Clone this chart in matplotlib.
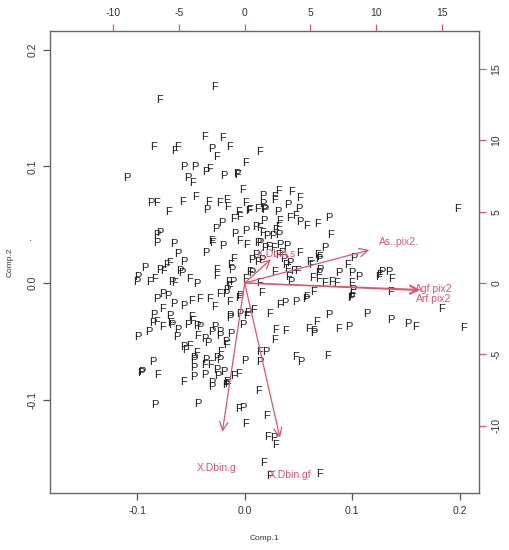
import matplotlib
matplotlib.use('Agg')
import matplotlib.pyplot as plt

# scores on Comp.1 / Comp.2, split by group label
f_comp1 = [-0.0282, -0.0796, -0.0375, -0.0207, -0.0849, -0.0654, -0.0622, -0.0145, -0.0260, -0.0331,
           0.0004, -0.0483, -0.0068, -0.0021, -0.0824, -0.0576, -0.0455, -0.0338, -0.0229, -0.0167,
           -0.0161, 0.0004, -0.0710, -0.0059, 0.0034, -0.0099, -0.0049, -0.0043, -0.0306, -0.0300,
           0.0020, -0.0694, -0.0725, -0.0756, -0.0099, -0.0129, -0.0260, -0.0266, -0.0880, -0.0840,
           -0.0517, -0.0654, -0.0152, 0.0004, -0.0136, -0.0229, -0.0492, -0.0415, -0.0331, -0.0282,
           -0.0136, -0.0762, -0.0818, -0.0762, -0.0687, -0.0492, -0.0483, 0.0020, -0.0440, -0.0167,
           -0.0508, -0.0059, 0.0220, 0.0267, 0.0401, 0.0453, 0.0494, 0.0608, 0.0618, 0.0276,
           0.0050, 0.0407, 0.0630, 0.0686, 0.0741, 0.0810, 0.0850, 0.0990, 0.0143, 0.0153,
           0.0639, 0.0578, 0.0329, 0.0081, 0.0227, 0.0671, 0.0593, 0.0639, 0.0283, 0.0382,
           0.0276, 0.0872, 0.0773, 0.0134, 0.0276, 0.0313, 0.0276, 0.0432, 0.0506, 0.0050,
           0.0118, 0.0416, 0.0469, 0.0578, 0.0680, 0.0801, 0.0323, 0.0313, 0.0137, 0.0283,
           0.0165, 0.0509, 0.0676, 0.0701, 0.0313, -0.0808, -0.0554, -0.0452, -0.0375, -0.0315,
           -0.0220, -0.0564, -0.0167, -0.0105, -0.0059, 0.0143, 0.0469, 0.0127, -0.0059, 0.0206,
           0.0004, 0.0215, 0.0289, 0.0180, 0.0236, 0.0701, 0.1982, 0.0955, 0.0996, 0.1006,
           0.1244, 0.1368, 0.1253, 0.1353, 0.1827, 0.1585, 0.2034, -0.0161]
f_comp2 = [0.1682, 0.1568, 0.1248, 0.1240, 0.1168, 0.1131, 0.1163, 0.1168, 0.1082, 0.0974,
           0.1026, 0.0854, 0.0925, 0.0797, 0.0688, 0.0692, 0.0740, 0.0697, 0.0688, 0.0711,
           0.0654, 0.0688, 0.0611, 0.0611, 0.0617, 0.0546, 0.0563, 0.0362, 0.0362, 0.0340,
           0.0326, 0.0174, 0.0154, 0.0105, 0.0203, 0.0154, 0.0111, 0.0063, 0.0011, 0.0032,
           0.0034, -0.0003, 0.0011, 0.0032, -0.0037, -0.0097, -0.0152, -0.0140, -0.0140, -0.0203,
           -0.0160, -0.0225, -0.0332, -0.0380, -0.0345, -0.0289, -0.0323, -0.0283, -0.0454, -0.0531,
           -0.0540, -0.0131, 0.0306, 0.0297, 0.0117, 0.0105, 0.0105, 0.0183, 0.0154, 0.0097,
           0.0097, 0.0049, 0.0040, 0.0032, 0.0003, 0.0011, -0.0003, -0.0003, 0.0003, -0.0083,
           -0.0075, -0.0123, -0.0189, -0.0231, -0.0266, -0.0332, -0.0397, -0.0409, -0.0403, -0.0409,
           -0.0488, -0.0397, -0.0626, 0.1125, 0.0734, 0.0791, 0.0711, 0.0782, 0.0726, 0.0626,
           0.0632, 0.0554, 0.0574, 0.0488, 0.0506, 0.0411, 0.0531, 0.0482, 0.0469, 0.0454,
           0.0426, 0.0254, 0.0240, 0.0225, 0.0240, -0.0788, -0.0574, -0.0602, -0.0703, -0.0703,
           -0.0589, -0.0846, -0.0851, -0.0797, -0.0782, -0.0589, -0.0632, -0.0925, -0.1082, -0.1137,
           -0.1211, -0.1317, -0.1388, -0.1545, -0.1651, -0.1637, 0.0634, 0.0154, -0.0123, -0.0094,
           0.0049, 0.0032, 0.0069, -0.0075, -0.0225, -0.0380, -0.0388, -0.0868]

p_comp1 = [-0.0306, -0.1091, -0.0564, -0.0461, -0.0362, -0.0529, -0.0189, -0.0073, -0.0871, -0.0353,
           -0.0213, -0.0266, 0.0013, -0.0787, -0.0818, -0.0818, -0.0089, -0.0204, -0.0663, -0.0359,
           -0.0617, -0.0570, -0.0787, -0.0927, -0.0601, -0.0585, -0.0989, -0.1004, -0.0678, -0.0440,
           -0.0114, -0.0167, -0.0173, -0.0762, -0.0715, -0.0812, -0.0657, -0.0564, -0.0049, -0.0849,
           -0.0855, -0.0700, -0.0678, -0.0617, -0.0524, -0.0440, -0.0415, -0.0306, -0.0275, -0.0235,
           -0.0142, -0.0142, -0.0049, -0.0018, -0.0989, -0.0887, -0.0632, -0.0368, -0.0338, -0.0173,
           -0.0229, -0.0570, -0.0120, 0.0032, -0.0127, 0.0127, 0.0190, 0.0329, 0.0392, 0.0066,
           0.0127, 0.0159, 0.0369, 0.0382, 0.0422, 0.0701, 0.0872, 0.0996, 0.0066, 0.0432,
           0.0686, 0.0987, 0.0571, 0.0475, 0.0376, 0.0785, 0.0648, 0.0965, 0.0165, 0.0165,
           0.0174, 0.0190, 0.0313, 0.0401, 0.0506, 0.0515, 0.0785, 0.0180, 0.0106, 0.0261,
           0.0320, 0.0211, 0.0137, 0.0748, 0.0692, 0.1020, 0.0103, 0.0345, -0.0855, -0.0957,
           -0.0967, -0.0468, -0.0468, -0.0359, -0.0254, -0.0229, -0.0477, -0.0477, -0.0368, -0.0254,
           -0.0189, -0.0245, -0.0306, -0.0306, -0.0176, 0.0004, 0.0137, 0.0199, 0.0525, -0.0833,
           -0.0436, -0.0018, 0.0267, 0.1058, 0.1006, 0.1275, 0.1343, 0.1141, 0.1359, 0.1517]
p_comp2 = [0.1148, 0.0897, 0.0991, 0.0997, 0.0954, 0.0897, 0.0919, 0.0934, 0.0683, 0.0626,
           0.0517, 0.0460, 0.0448, 0.0431, 0.0411, 0.0340, 0.0420, 0.0317, 0.0334, 0.0260,
           0.0248, 0.0183, 0.0111, 0.0126, 0.0105, 0.0083, 0.0054, 0.0011, 0.0011, -0.0011,
           0.0011, -0.0060, -0.0094, -0.0097, -0.0111, -0.0140, -0.0183, -0.0197, -0.0111, -0.0274,
           -0.0345, -0.0283, -0.0360, -0.0403, -0.0360, -0.0368, -0.0380, -0.0417, -0.0380, -0.0417,
           -0.0283, -0.0302, -0.0266, -0.0360, -0.0465, -0.0422, -0.0465, -0.0482, -0.0517, -0.0503,
           -0.0454, -0.0551, 0.0111, -0.0257, -0.0437, 0.0340, 0.0297, 0.0326, 0.0317, 0.0197,
           0.0183, 0.0197, 0.0203, 0.0154, 0.0174, 0.0111, 0.0083, 0.0083, 0.0083, 0.0011,
           0.0083, -0.0131, -0.0140, -0.0160, -0.0174, -0.0274, -0.0426, -0.0380, 0.0746, 0.0677,
           0.0632, 0.0626, 0.0611, 0.0668, 0.0632, 0.0525, 0.0554, 0.0531, 0.0482, 0.0403,
           0.0411, 0.0403, 0.0345, 0.0302, 0.0203, 0.0212, 0.0240, 0.0260, -0.0674, -0.0760,
           -0.0769, -0.0640, -0.0660, -0.0660, -0.0640, -0.0660, -0.0726, -0.0803, -0.0788, -0.0745,
           -0.0760, -0.0797, -0.0859, -0.0889, -0.0874, -0.0668, -0.0674, -0.0589, -0.0674, -0.1045,
           -0.1039, -0.1074, -0.1326, 0.0054, -0.0060, 0.0097, 0.0097, -0.0266, -0.0317, -0.0354]

# loadings (top / right axes)
var_names = ['As..pix2.', 'Agf.pix2', 'Arf.pix2', 'X.Dbin.g', 'X.Dbin.gf', 'X.Dbin.s']
load1 = [9.47, 13.28, 13.28, -1.70, 2.68, 1.99]
load2 = [2.31, -0.46, -0.53, -10.43, -10.85, 1.66]
lab1 = [11.73, 14.40, 14.35, -2.17, 3.44, 2.43]
lab2 = [2.90, -0.42, -1.10, -13.00, -13.46, 2.03]

red = '#DF536B'
plt.rcParams['font.family'] = ['Liberation Sans', 'DejaVu Sans']
plt.rcParams['axes.unicode_minus'] = False

fig = plt.figure(figsize=(5.09, 5.5), dpi=100)
rect = [50 / 509, 1 - 493 / 550, 429 / 509, 462 / 550]
ax = fig.add_axes(rect)
ax.set_xlim(-0.181, 0.218)
ax.set_ylim(-0.18, 0.216)

for x, y in zip(f_comp1, f_comp2):
    ax.text(x, y, 'F', ha='center', va='center', fontsize=8, color='#1a1a1a')
for x, y in zip(p_comp1, p_comp2):
    ax.text(x, y, 'P', ha='center', va='center', fontsize=8, color='#1a1a1a')

ax.set_xticks([-0.1, 0.0, 0.1, 0.2])
ax.set_yticks([-0.1, 0.0, 0.1, 0.2])
ax.set_xticklabels(['-0.1', '0.0', '0.1', '0.2'])
ax.set_yticklabels(['-0.1', '0.0', '0.1', '0.2'], rotation=90, va='center')
ax.tick_params(length=5, width=0.9, color='#555555', labelsize=7.5, labelcolor='#333333', pad=4)
ax.set_xlabel('Comp.1', fontsize=6, color='#333333', labelpad=14)
ax.set_ylabel('Comp.2', fontsize=6, color='#333333', labelpad=10)
for s in ax.spines.values():
    s.set_color('#666666')
    s.set_linewidth(1.0)

# second axes for the loadings
ax2 = fig.add_axes(rect, frameon=False)
ax2.set_xlim(-14.81, 17.82)
ax2.set_ylim(-14.73, 17.67)
ax2.xaxis.tick_top()
ax2.yaxis.tick_right()
ax2.set_xticks([-10, -5, 0, 5, 10, 15])
ax2.set_yticks([-10, -5, 0, 5, 10, 15])
ax2.set_yticklabels(['-10', '-5', '0', '5', '10', '15'], rotation=90, va='center')
ax2.tick_params(length=5, width=0.9, color=red, labelsize=7.5, labelcolor='#333333', pad=4)
ax2.patch.set_visible(False)

for name, x, y, lx, ly in zip(var_names, load1, load2, lab1, lab2):
    ax2.annotate('', xy=(x, y), xytext=(0, 0),
                 arrowprops=dict(arrowstyle='->,head_length=0.6,head_width=0.3',
                                 color=red, lw=0.9, shrinkA=0, shrinkB=0))
    ax2.text(lx, ly, name, ha='center', va='center', fontsize=7.5, color=red)

fig.text(31 / 509, 1 - 238 / 550, '.', ha='center', va='center', fontsize=8, color='#333333')

fig.savefig('out.png', dpi=100)
